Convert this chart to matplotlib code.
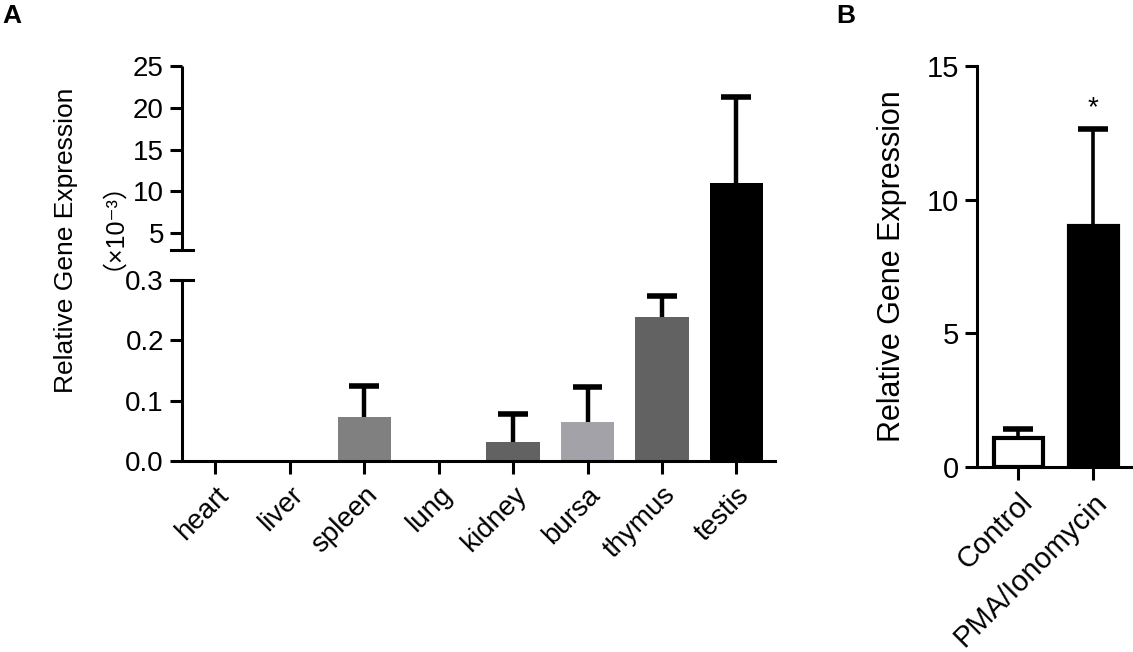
import numpy as np
import matplotlib
matplotlib.use("Agg")
import matplotlib.pyplot as plt

plt.rcParams['font.family'] = ['Liberation Sans', 'DejaVu Sans']

# panel A data (x10^-3)
tissues = ['heart', 'liver', 'spleen', 'lung', 'kidney', 'bursa', 'thymus', 'testis']
means_a = [0.0, 0.0, 0.073, 0.0, 0.031, 0.064, 0.238, 11.0]
errs_a = [0.0, 0.0, 0.052, 0.0, 0.047, 0.058, 0.036, 10.3]
colors_a = ['#808080', '#808080', '#808080', '#808080', '#626262', '#a3a2a8', '#626262', '#000000']

# panel B data
groups = ['Control', 'PMA/Ionomycin']
means_b = [1.08, 9.0]
errs_b = [0.34, 3.65]

# broken axis for panel A: 0-0.3 lower part, 3-25 upper part
brk_vals = [-1.0, 0.0, 0.3, 3.0, 25.0, 100.0]
brk_pos = [-603.3, 0.0, 181.0, 211.0, 394.7, 1022.6]

def fwd(y):
    return np.interp(y, brk_vals, brk_pos)

def inv(p):
    return np.interp(p, brk_pos, brk_vals)

fig = plt.figure(figsize=(11.33, 6.52), dpi=100)
lw = 2.2
tick_fs = 20

# ---------- panel A ----------
ax = fig.add_axes([182 / 1133, 1 - 461 / 652, 593 / 1133, 395 / 652])
ax.set_yscale('function', functions=(fwd, inv))
x = np.arange(len(tissues))
ax.bar(x, means_a, width=0.72, color=colors_a, zorder=2)
for xi, m, e in zip(x, means_a, errs_a):
    if m > 0:
        ax.vlines(xi, m, m + e, color='black', lw=3.2, zorder=3)
        ax.hlines(m + e, xi - 0.2, xi + 0.2, color='black', lw=4, zorder=3)
ax.set_xlim(-0.45, 7.52)
ax.set_ylim(0, 25)
ax.set_yticks([0, 0.1, 0.2, 0.3, 5, 10, 15, 20, 25])
ax.set_yticklabels(['0.0', '0.1', '0.2', '0.3', '5', '10', '15', '20', '25'])
ax.yaxis.set_minor_locator(matplotlib.ticker.NullLocator())
ax.set_xticks(x)
ax.set_xticklabels(tissues, rotation=45, ha='right', va='top', rotation_mode='anchor')
for s in ['top', 'right', 'left']:
    ax.spines[s].set_visible(False)
ax.spines['bottom'].set_linewidth(lw)
tr = ax.get_yaxis_transform()
ax.plot([0, 0], [0, 0.3], color='black', lw=lw, transform=tr, clip_on=False, solid_capstyle='butt')
ax.plot([0, 0], [3, 25], color='black', lw=lw, transform=tr, clip_on=False, solid_capstyle='butt')
for yb in [0.3, 3]:
    ax.plot([-0.019, 0.019], [yb, yb], color='black', lw=lw, transform=tr, clip_on=False)
ax.tick_params(axis='both', labelsize=tick_fs, width=lw, length=9, color='black', pad=4)
ax.tick_params(axis='x', pad=6)

# two-line y label of panel A
fig.text(66 / 1133, 1 - 240 / 652, 'Relative Gene Expression', fontsize=19,
         rotation=90, ha='center', va='center')
fig.text(100 / 1133, 1 - 213 / 652, '（×10⁻³）', fontsize=18, rotation=90,
         ha='center', va='center', family=['Liberation Sans', 'Noto Sans CJK SC', 'DejaVu Sans'])

# ---------- panel B ----------
bx = fig.add_axes([977 / 1133, 1 - 467 / 652, 156 / 1133, 401 / 652])
xb = np.arange(len(groups))
bx.bar(xb, means_b, width=0.66, color=['white', 'black'], edgecolor='black', linewidth=3, zorder=2)
for xi, m, e in zip(xb, means_b, errs_b):
    bx.vlines(xi, m, m + e, color='black', lw=2.6, zorder=1)
    bx.hlines(m + e, xi - 0.2, xi + 0.2, color='black', lw=4, zorder=3)
bx.text(xb[1], means_b[1] + errs_b[1] + 0.3, '*', ha='center', va='bottom', fontsize=20)
bx.set_xlim(-0.55, 1.53)
bx.set_ylim(0, 15)
bx.set_yticks([0, 5, 10, 15])
bx.set_xticks(xb)
bx.set_xticklabels(groups, rotation=45, ha='right', va='top', rotation_mode='anchor')
for s in ['top', 'right']:
    bx.spines[s].set_visible(False)
for s in ['left', 'bottom']:
    bx.spines[s].set_linewidth(lw)
bx.tick_params(axis='both', labelsize=21, width=lw, length=9, color='black', pad=4)
bx.tick_params(axis='x', pad=6)
bx.set_ylabel('Relative Gene Expression', fontsize=22, labelpad=14)

fig.text(12 / 1133, 1 - 16 / 652, 'A', fontsize=19, fontweight='bold', va='center', ha='center')
fig.text(846 / 1133, 1 - 16 / 652, 'B', fontsize=19, fontweight='bold', va='center', ha='center')

fig.savefig('out.png', dpi=100)
